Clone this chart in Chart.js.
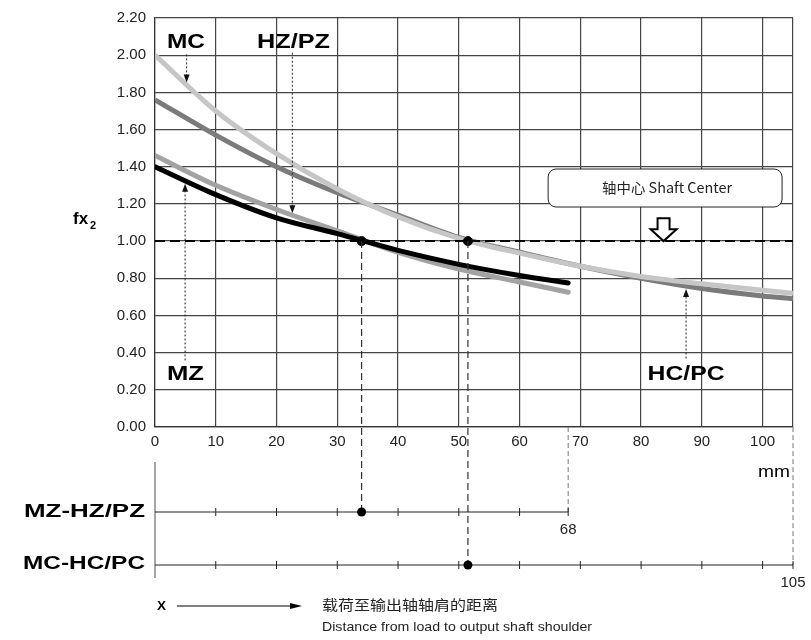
<!DOCTYPE html>
<html>
<head>
<meta charset="utf-8">
<script src="https://cdn.jsdelivr.net/npm/chart.js@4.4.1/dist/chart.umd.min.js"></script>
<style>
  html, body { margin: 0; padding: 0; background: #fff; }
  #wrap { width: 811px; height: 640px; position: relative; }
</style>
</head>
<body>
<div id="wrap"><canvas id="fxChart"></canvas></div>
<script>
// Load factor fx2 vs. distance from load to output shaft shoulder (mm)
const xLong = [0, 10, 20, 30, 40, 50, 60, 70, 80, 90, 100, 105];   // MC, HC/PC
const mcValues = [2.00, 1.70, 1.47, 1.28, 1.13, 1.015, 0.935, 0.865, 0.81, 0.77, 0.735, 0.72];
const hcpcValues = [1.76, 1.57, 1.40, 1.26, 1.14, 1.02, 0.94, 0.865, 0.80, 0.745, 0.705, 0.69];

const xShort = [0, 10, 20, 30, 40, 50, 60, 68];                      // MZ, HZ/PZ
const mzValues = [1.46, 1.30, 1.17, 1.055, 0.94, 0.85, 0.78, 0.725];
const hzpzValues = [1.40, 1.25, 1.125, 1.04, 0.95, 0.875, 0.815, 0.775];

const refX = [0, 105];          // shaft center line fx2 = 1.0
const refY = [1.0, 1.0];
const crossX = [34, 51.5];      // where the curves cross 1.0
const crossY = [1.0, 1.0];

const xTicks = [0, 10, 20, 30, 40, 50, 60, 70, 80, 90, 100, 105];
const xTickStep = 10;
const shortEnd = 68;
const longEnd = 105;

const toPoints = (xs, ys) => xs.map((v, i) => ({ x: v, y: ys[i] }));

const FONT = "'Liberation Sans', Arial, sans-serif";
const CJK = "'Noto Sans CJK SC', 'Liberation Sans', sans-serif";

// text squeezed/stretched to the width seen in the reference
function fitText(ctx, text, x, y, font, width, align) {
    ctx.save();
    ctx.font = font;
    const w = ctx.measureText(text).width;
    ctx.translate(x, y);
    ctx.scale(width / w, 1);
    ctx.textAlign = align;
    ctx.textBaseline = 'middle';
    ctx.fillText(text, 0, 0);
    ctx.restore();
}

function dottedArrow(ctx, x, y0, y1) {
    const dir = y1 > y0 ? 1 : -1;
    ctx.save();
    ctx.strokeStyle = '#222';
    ctx.lineWidth = 1;
    ctx.setLineDash([2, 2]);
    ctx.beginPath();
    ctx.moveTo(x, y0);
    ctx.lineTo(x, y1 - dir * 6);
    ctx.stroke();
    ctx.setLineDash([]);
    ctx.fillStyle = '#111';
    ctx.beginPath();
    ctx.moveTo(x, y1);
    ctx.lineTo(x - 3, y1 - dir * 8);
    ctx.lineTo(x + 3, y1 - dir * 8);
    ctx.closePath();
    ctx.fill();
    ctx.restore();
}

function dot(ctx, x, y) {
    ctx.beginPath();
    ctx.arc(x, y, 4.5, 0, Math.PI * 2);
    ctx.fill();
}

// labels pointing at the curves, positions in data units
const curveLabels = [
    { text: 'MC', x: 5.1, y: 2.072, w: 38, arrowX: 5.2, from: 2.004, to: 1.853 },
    { text: 'HZ/PZ', x: 22.8, y: 2.072, w: 73, arrowX: 22.6, from: 2.013, to: 1.15 },
    { text: 'MZ', x: 5.0, y: 0.283, w: 37, arrowX: 4.95, from: 0.358, to: 1.308 },
    { text: 'HC/PC', x: 87.4, y: 0.286, w: 77, arrowX: 87.4, from: 0.368, to: 0.742 }
];

const extras = {
    id: 'extras',
    afterDraw(chart) {
        const { ctx } = chart;
        const xs = chart.scales.x;
        const ys = chart.scales.y;
        const px = v => xs.getPixelForValue(v);
        const py = v => ys.getPixelForValue(v);
        const bottom = chart.chartArea.bottom;
        const axisShortY = 512;
        const axisLongY = 565;

        ctx.save();
        ctx.fillStyle = '#000';

        // labels with dotted arrows
        curveLabels.forEach(l => {
            fitText(ctx, l.text, px(l.x), py(l.y), 'bold 21px ' + FONT, l.w, 'center');
            dottedArrow(ctx, px(l.arrowX), py(l.from), py(l.to));
        });

        // shaft center box
        const bx = px(64.7), bw = px(103.2) - bx, by = 169, bh = 38;
        ctx.fillStyle = '#fff';
        ctx.strokeStyle = '#222';
        ctx.lineWidth = 1;
        ctx.beginPath();
        ctx.roundRect(bx, by, bw, bh, 8);
        ctx.fill();
        ctx.stroke();
        ctx.fillStyle = '#222';
        fitText(ctx, '轴中心 Shaft Center', bx + bw / 2 + 2, by + bh / 2, '14px ' + CJK, 130, 'center');

        // hollow down arrow
        const ax = px(83.7), at = py(1.123), ab = py(1.0);
        ctx.fillStyle = '#fff';
        ctx.strokeStyle = '#000';
        ctx.lineWidth = 2;
        ctx.beginPath();
        ctx.moveTo(ax - 6, at);
        ctx.lineTo(ax + 6, at);
        ctx.lineTo(ax + 6, at + 11);
        ctx.lineTo(ax + 13, at + 11);
        ctx.lineTo(ax, ab);
        ctx.lineTo(ax - 13, at + 11);
        ctx.lineTo(ax - 6, at + 11);
        ctx.closePath();
        ctx.fill();
        ctx.stroke();

        // y axis title fx2
        ctx.fillStyle = '#000';
        ctx.font = 'bold 17px ' + FONT;
        ctx.textBaseline = 'middle';
        ctx.textAlign = 'left';
        ctx.fillText('fx', 73, 219);
        ctx.font = 'bold 11px ' + FONT;
        ctx.fillText('2', 90, 226);

        // mm unit
        fitText(ctx, 'mm', 790, 472.5, '16px ' + FONT, 32, 'right');

        // dashed drop lines
        ctx.strokeStyle = '#333';
        ctx.lineWidth = 1.2;
        ctx.setLineDash([7, 4]);
        ctx.beginPath();
        ctx.moveTo(px(crossX[0]), py(crossY[0]));
        ctx.lineTo(px(crossX[0]), axisShortY);
        ctx.moveTo(px(crossX[1]), py(crossY[1]));
        ctx.lineTo(px(crossX[1]), axisLongY);
        ctx.stroke();
        ctx.strokeStyle = '#777';
        ctx.lineWidth = 1;
        ctx.setLineDash([5, 3]);
        ctx.beginPath();
        ctx.moveTo(px(shortEnd), bottom);
        ctx.lineTo(px(shortEnd), axisShortY);
        ctx.moveTo(px(longEnd), bottom);
        ctx.lineTo(px(longEnd), axisLongY);
        ctx.stroke();
        ctx.setLineDash([]);

        // secondary distance axes
        ctx.strokeStyle = '#777';
        ctx.lineWidth = 1.3;
        ctx.beginPath();
        ctx.moveTo(px(0), 462);
        ctx.lineTo(px(0), 578);
        ctx.stroke();
        ctx.strokeStyle = '#222';
        ctx.lineWidth = 1;
        [[shortEnd, axisShortY], [longEnd, axisLongY]].forEach(([end, ay]) => {
            ctx.beginPath();
            ctx.moveTo(px(0), ay);
            ctx.lineTo(px(end), ay);
            for (let t = xTickStep; t < end; t += xTickStep) {
                ctx.moveTo(px(t), ay - 4);
                ctx.lineTo(px(t), ay + 4);
            }
            ctx.moveTo(px(end), ay - 4);
            ctx.lineTo(px(end), ay + 4);
            ctx.stroke();
        });
        ctx.fillStyle = '#000';
        dot(ctx, px(crossX[0]), axisShortY);
        dot(ctx, px(crossX[1]), axisLongY);

        ctx.fillStyle = '#222';
        ctx.font = '15px ' + FONT;
        ctx.textAlign = 'center';
        ctx.fillText(String(shortEnd), px(shortEnd), 530);
        ctx.fillText(String(longEnd), px(longEnd), 583);

        ctx.fillStyle = '#000';
        fitText(ctx, 'MZ-HZ/PZ', 145, axisShortY, 'bold 19px ' + FONT, 121, 'right');
        fitText(ctx, 'MC-HC/PC', 145, axisLongY - 1, 'bold 19px ' + FONT, 122, 'right');

        // X -> distance caption
        fitText(ctx, 'X', 157, 606, 'bold 13px ' + FONT, 9, 'left');
        ctx.strokeStyle = '#000';
        ctx.lineWidth = 1;
        ctx.beginPath();
        ctx.moveTo(177, 606);
        ctx.lineTo(292, 606);
        ctx.stroke();
        ctx.beginPath();
        ctx.moveTo(302, 606);
        ctx.lineTo(290, 603);
        ctx.lineTo(290, 609);
        ctx.closePath();
        ctx.fill();
        ctx.fillStyle = '#222';
        fitText(ctx, '载荷至输出轴轴肩的距离', 322, 605, '14px ' + CJK, 176, 'left');
        fitText(ctx, 'Distance from load to output shaft shoulder', 322, 627, '13px ' + FONT, 270, 'left');

        ctx.restore();
    }
};

const gridColor = '#444';

new Chart(document.getElementById('fxChart'), {
    type: 'line',
    data: {
        datasets: [
            {
                label: 'shaft center',
                data: toPoints(refX, refY),
                borderColor: '#000',
                borderWidth: 2,
                borderDash: [10, 5],
                pointRadius: 0,
                order: 0
            },
            {
                type: 'scatter',
                label: 'crossing',
                data: toPoints(crossX, crossY),
                backgroundColor: '#000',
                borderColor: '#000',
                pointRadius: 4.5,
                showLine: false,
                order: 0
            },
            {
                label: 'HZ/PZ',
                data: toPoints(xShort, hzpzValues),
                borderColor: '#000',
                borderWidth: 5,
                pointRadius: 0,
                cubicInterpolationMode: 'monotone',
                borderCapStyle: 'round',
                order: 1
            },
            {
                label: 'MZ',
                data: toPoints(xShort, mzValues),
                borderColor: '#a3a3a3',
                borderWidth: 5,
                pointRadius: 0,
                cubicInterpolationMode: 'monotone',
                borderCapStyle: 'round',
                order: 2
            },
            {
                label: 'MC',
                data: toPoints(xLong, mcValues),
                borderColor: '#c6c6c6',
                borderWidth: 5,
                pointRadius: 0,
                cubicInterpolationMode: 'monotone',
                order: 3
            },
            {
                label: 'HC/PC',
                data: toPoints(xLong, hcpcValues),
                borderColor: '#7b7b7b',
                borderWidth: 5,
                pointRadius: 0,
                cubicInterpolationMode: 'monotone',
                order: 4
            }
        ]
    },
    options: {
        responsive: true,
        maintainAspectRatio: false,
        animation: false,
        layout: {
            padding: { top: 15, right: 18, bottom: 183, left: 0 }
        },
        plugins: {
            legend: { display: false },
            tooltip: { enabled: false }
        },
        scales: {
            x: {
                type: 'linear',
                min: 0,
                max: longEnd,
                afterFit: s => { s.height = 30; },
                afterBuildTicks: s => { s.ticks = xTicks.map(v => ({ value: v })); },
                ticks: {
                    autoSkip: false,
                    maxRotation: 0,
                    padding: 6,
                    color: '#222',
                    font: { family: FONT, size: 15 },
                    callback: v => (v === longEnd ? '' : v)
                },
                grid: { color: gridColor, lineWidth: 1.2, drawTicks: false },
                border: { color: '#333', width: 1.2 }
            },
            y: {
                min: 0,
                max: 2.2,
                afterFit: s => { s.width = 155; },
                ticks: {
                    stepSize: 0.2,
                    padding: 9,
                    color: '#222',
                    font: { family: FONT, size: 15 },
                    callback: v => Number(v).toFixed(2)
                },
                grid: { color: gridColor, lineWidth: 1.2, drawTicks: false },
                border: { color: '#333', width: 1.2 }
            }
        }
    },
    plugins: [extras]
});
</script>
</body>
</html>
